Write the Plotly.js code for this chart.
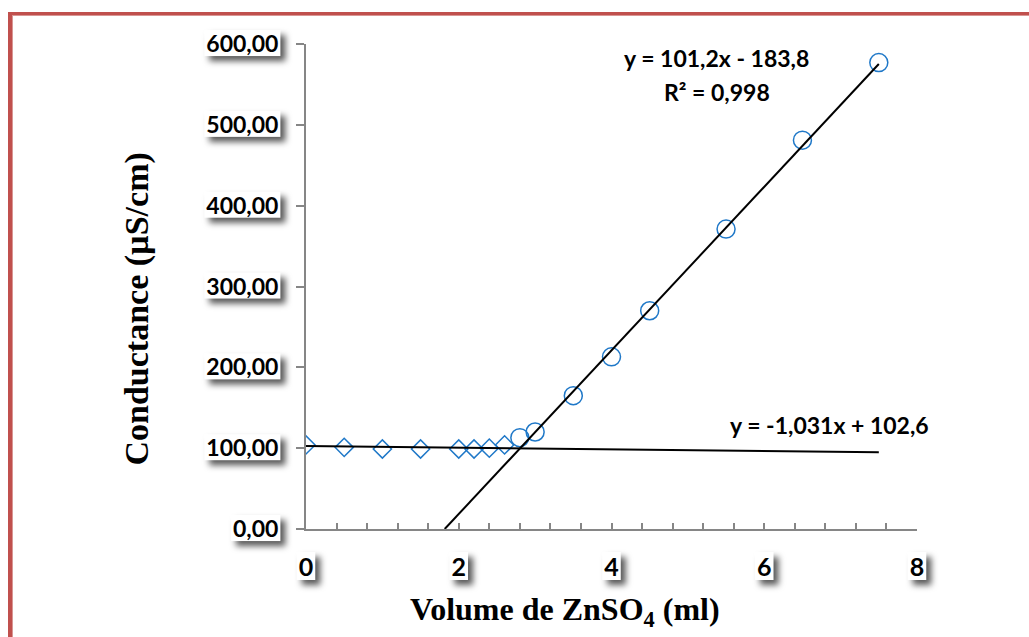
<!DOCTYPE html>
<html>
<head>
<meta charset="utf-8">
<script src="https://cdn.plot.ly/plotly-3.0.1.min.js"></script>
<style>
  html, body { margin: 0; padding: 0; background: #fff; overflow: hidden; }
  #chart { width: 1029px; height: 637px; position: absolute; left: 0; top: 0; }
  #frame { position: absolute; left: 8px; top: 12px; width: 1100px; height: 700px;
           border-left: 4px solid #C0504D; border-top: 3px solid #C0504D;
           box-shadow: inset 1px 1px 0 #D99694; pointer-events: none; }
</style>
</head>
<body>
<div id="chart"></div>
<div id="frame"></div>
<script>
// Series 1: before equivalence (diamonds)
const volBefore = [0, 0.5, 1, 1.5, 2, 2.2, 2.4, 2.6];
const condBefore = [104, 101, 99, 99, 99, 99, 100, 104];
// Series 2: after equivalence (circles)
const volAfter = [2.8, 3, 3.5, 4, 4.5, 5.5, 6.5, 7.5];
const condAfter = [113, 120, 165, 213, 270, 371, 481, 577];
// Linear trendlines (slope, intercept) as displayed
const fitBefore = [-1.031, 102.6];
const fitAfter = [101.2, -183.8];
const eqBefore = 'y = -1,031x + 102,6';
const eqAfter = 'y = 101,2x - 183,8';
const r2After = 'R² = 0,998';
const xTitle = 'Volume de ZnSO<sub>4</sub> (ml)';
const yTitle = 'Conductance (µS/cm)';
const yTickVals = [0, 100, 200, 300, 400, 500, 600];
const yTickText = ['0,00', '100,00', '200,00', '300,00', '400,00', '500,00', '600,00'];
const xTickVals = [0, 2, 4, 6, 8];

const blue = '#1F78C8';
const lineX1 = [volBefore[0], volAfter[volAfter.length - 1]];
const lineY1 = lineX1.map(x => fitBefore[0] * x + fitBefore[1]);
const x0After = -fitAfter[1] / fitAfter[0];
const lineX2 = [x0After, volAfter[volAfter.length - 1]];
const lineY2 = lineX2.map(x => fitAfter[0] * x + fitAfter[1]);

const data = [
  { x: volBefore, y: condBefore, mode: 'markers', type: 'scatter',
    marker: { symbol: 'diamond-open', size: 14, color: blue, line: { width: 1.5, color: blue } } },
  { x: volAfter, y: condAfter, mode: 'markers', type: 'scatter',
    marker: { symbol: 'circle-open', size: 18, color: blue, line: { width: 1.5, color: blue } } },
  { x: lineX1, y: lineY1, mode: 'lines', type: 'scatter', line: { color: '#000', width: 2 } },
  { x: lineX2, y: lineY2, mode: 'lines', type: 'scatter', line: { color: '#000', width: 2 } }
];

const serif = 'Liberation Serif, Times New Roman, serif';
const eqFont = { family: 'Lato, sans-serif', size: 23, color: '#000', weight: 'bold' };
const layout = {
  width: 1029, height: 637,
  margin: { l: 306, r: 112, t: 44, b: 108 },
  paper_bgcolor: '#fff', plot_bgcolor: '#fff',
  showlegend: false,
  xaxis: {
    range: [0, 8], tickvals: xTickVals, ticktext: xTickVals.map(String),
    showgrid: false, zeroline: false, showline: true, linecolor: '#868686', linewidth: 2,
    ticks: 'inside', ticklen: 6, tickwidth: 2, tickcolor: '#868686',
    minor: { dtick: 0.4, tick0: 0, ticks: 'inside', ticklen: 6, tickwidth: 2, tickcolor: '#868686', showgrid: false },
    tickfont: { family: 'Lato, sans-serif', size: 25, color: '#000', weight: 'bold' },
    ticklabelstandoff: 15,
    automargin: false
  },
  yaxis: {
    range: [0, 600], tickvals: yTickVals, ticktext: yTickText,
    showgrid: false, zeroline: false, showline: true, linecolor: '#868686', linewidth: 2,
    ticks: 'outside', ticklen: 8, tickwidth: 2, tickcolor: '#868686',
    tickfont: { family: 'Lato, sans-serif', size: 23, color: '#000', weight: 'bold' },
    ticklabelstandoff: 13,
    automargin: false
  },
  annotations: [
    { x: 5.38, y: 583, xref: 'x', yref: 'y', text: eqAfter, showarrow: false, font: eqFont },
    { x: 5.38, y: 541, xref: 'x', yref: 'y', text: r2After, showarrow: false, font: eqFont },
    { x: 6.85, y: 129, xref: 'x', yref: 'y', text: eqBefore, showarrow: false, font: eqFont },
    { x: 0.424, y: -0.171, xref: 'paper', yref: 'paper', text: xTitle, showarrow: false,
      xanchor: 'center', yanchor: 'middle',
      font: { family: serif, size: 32, color: '#000', weight: 'bold' } },
    { x: -0.2766, y: 0.4546, xref: 'paper', yref: 'paper', text: yTitle, showarrow: false,
      textangle: -90, xanchor: 'center', yanchor: 'middle',
      font: { family: serif, size: 34, color: '#000', weight: 'bold' } }
  ]
};

Plotly.newPlot('chart', data, layout, { staticPlot: true, displayModeBar: false }).then(gd => {
  const ns = 'http://www.w3.org/2000/svg';
  gd.querySelectorAll('.xtick text, .ytick text').forEach(t => {
    const bb = t.getBBox();
    if (!bb.width) return;
    const r = document.createElementNS(ns, 'rect');
    r.setAttribute('x', bb.x - 2);
    r.setAttribute('y', bb.y + 1);
    r.setAttribute('width', bb.width + 4);
    r.setAttribute('height', bb.height - 2);
    r.setAttribute('fill', '#fff');
    const tr = t.getAttribute('transform');
    if (tr) r.setAttribute('transform', tr);
    r.setAttribute('style', 'filter: drop-shadow(5px 5px 3px rgba(0,0,0,0.65))');
    t.parentNode.insertBefore(r, t);
  });
});
</script>
</body>
</html>
